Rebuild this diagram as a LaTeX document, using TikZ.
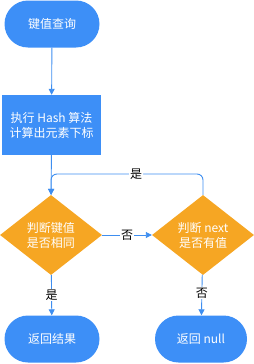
\documentclass[tikz,border=0pt]{standalone}
\usepackage{fontspec}
\usepackage{tikz}
\usetikzlibrary{shapes.misc,shapes.geometric,arrows.meta}
\newfontfamily\cjk{Noto Sans CJK SC}
\definecolor{flowblue}{RGB}{61,143,247}
\definecolor{flowline}{RGB}{62,142,240}
\definecolor{floworange}{RGB}{246,166,35}

\begin{document}
\begin{tikzpicture}[x=1pt,y=-1pt,
    font=\cjk\fontsize{12}{15}\selectfont,
    terminal/.style={rounded rectangle,fill=flowblue,text=white,
        minimum width=95pt,minimum height=47pt,inner sep=0pt},
    process/.style={rectangle,fill=flowblue,text=white,align=center,
        minimum width=99pt,minimum height=60pt,inner sep=0pt},
    decision/.style={diamond,fill=floworange,text=white,align=center,
        aspect=1.275,minimum width=102pt,minimum height=80pt,inner sep=0pt},
    flow/.style={draw=flowline,line width=0.9pt,
        -{Triangle[length=6pt,width=6pt]}},
    tag/.style={fill=white,text=black,inner sep=1pt}]
    \useasboundingbox (0,0) rectangle (254,364);

    % Nodes
    \node[terminal] (query) at (52,24) {键值查询};
    \node[process] (hash) at (51.5,125) {执行 Hash 算法\\计算出元素下标};
    \node[decision] (same) at (51,235) {判断键值\\是否相同};
    \node[decision] (next) at (203,235) {判断 next\\是否有值};
    \node[terminal] (result) at (52,339) {返回结果};
    \node[terminal,minimum width=92pt] (null) at (201,339) {返回 null};
    \coordinate (loop) at (51,174);

    % Connectors
    \draw[flow] (query) -- (hash);
    \draw[flow] (hash) -- (same);
    \draw[flow,rounded corners=6pt] (next.north) |- node[tag,pos=0.72] {是}
        (loop) -- (same.north);
    \draw[flow] (same) -- (next) node[tag,midway] {否};
    \draw[flow] (same) -- (result) node[tag,midway] {是};
    \draw[flow] (next) -- (null) node[tag,pos=0.45] {否};
\end{tikzpicture}
\end{document}
